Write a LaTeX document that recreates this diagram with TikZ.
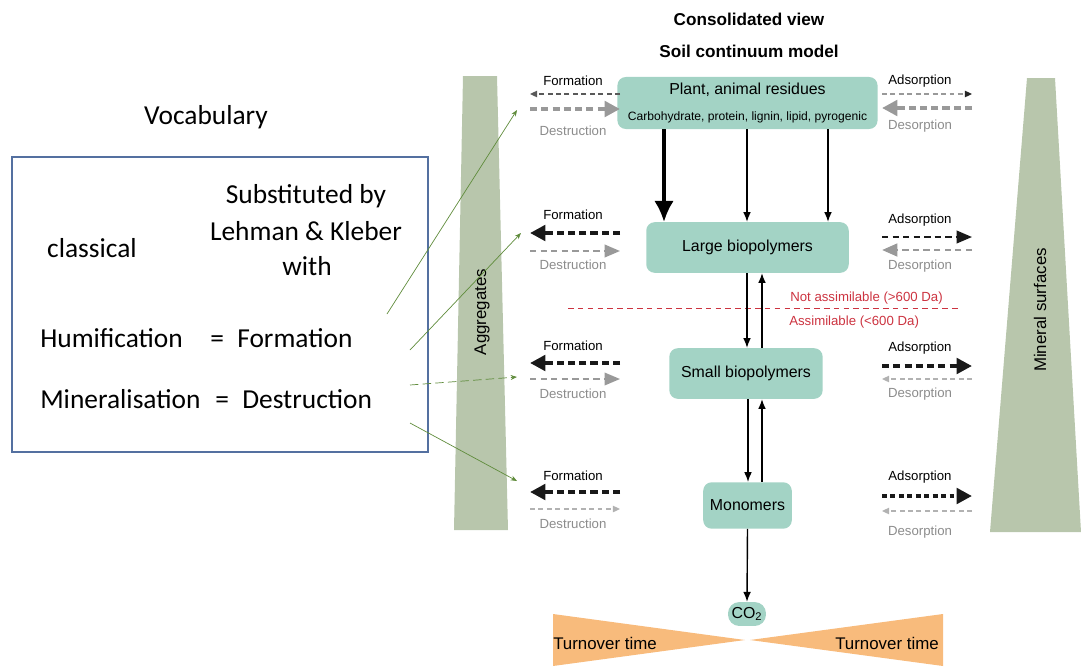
\documentclass[tikz,border=0pt]{standalone}
\usepackage{fontspec}
\setmainfont{Liberation Sans}
\newfontfamily\calibri{Carlito}
\usetikzlibrary{arrows.meta}
\tikzset{
  pool/.style={
    fill=poolgreen,
    rounded corners=6pt,
    align=center,
    inner sep=2pt,
    font=\fontsize{11.3}{13}\selectfont},
  fluxlabel/.style={font=\fontsize{9.4}{11}\selectfont},
  backlabel/.style={fluxlabel, text=black!45},
  fluxweak/.style={
    line width=0.9pt,
    dash pattern=on 3.5pt off 2.5pt,
    -{Triangle[length=5pt,width=4.5pt]}},
  fluxmid/.style={
    line width=1.4pt,
    dash pattern=on 4.5pt off 3pt,
    -{Triangle[length=11pt,width=9pt]}},
  fluxstrong/.style={
    line width=2.8pt,
    dash pattern=on 5pt off 3pt,
    -{Triangle[length=11pt,width=11pt]}},
  flow/.style={line width=1pt, -{Latex[length=7pt,width=5.5pt]}},
  vocab/.style={font=\calibri\fontsize{19.5}{23}\selectfont, anchor=base, inner sep=0pt},
  hint/.style={draw=hintgreen, line width=0.5pt, -{Stealth[length=4.5pt,width=3.5pt]}}
}
\begin{document}
\begin{tikzpicture}[x=0.025cm, y=-0.025cm]
  \definecolor{poolgreen}{RGB}{163, 211, 197}
  \definecolor{barfill}{RGB}{184, 198, 172}
  \definecolor{turnorange}{RGB}{248, 187, 124}
  \definecolor{cutred}{RGB}{204, 51, 64}
  \definecolor{hintgreen}{RGB}{96, 140, 60}
  \definecolor{vocabblue}{RGB}{84, 112, 160}

  \useasboundingbox (0,0) rectangle (1081,666);

  % Titles
  \node[font=\bfseries\fontsize{12.2}{14}\selectfont] (title) at (749,19) {Consolidated view};
  \node[font=\bfseries\fontsize{12.2}{14}\selectfont] (subtitle) at (749,51) {Soil continuum model};

  % Side bars
  \fill[barfill] (463,76) -- (497,76) -- (508,530) -- (454,530) -- cycle;
  \node[rotate=90, font=\fontsize{12}{14}\selectfont] (aggr) at (482,312) {Aggregates};
  \fill[barfill] (1027,78) -- (1055,78) -- (1081,532) -- (990,532) -- cycle;
  \node[rotate=90, font=\fontsize{12}{14}\selectfont] (surfaces) at (1040,310) {Mineral surfaces};

  % Turnover time
  \fill[turnorange] (553,614) -- (745,640) -- (553,666) -- cycle;
  \fill[turnorange] (943,614) -- (750,640) -- (943,666) -- cycle;
  \node[font=\fontsize{12}{14}\selectfont] (turnL) at (605,643) {Turnover time};
  \node[font=\fontsize{12}{14}\selectfont] (turnR) at (887,643) {Turnover time};

  % Assimilation limit
  \draw[cutred, line width=0.7pt, dash pattern=on 4pt off 3pt] (568,308) -- (958,308);
  \node[anchor=west, text=cutred, font=\fontsize{9.4}{11}\selectfont, inner sep=0pt] (notass) at (790,298) {Not assimilable (>600 Da)};
  \node[anchor=west, text=cutred, font=\fontsize{9.4}{11}\selectfont, inner sep=0pt] (ass) at (789,322) {Assimilable (<600 Da)};

  % Pools
  \node[pool, minimum width=185pt, minimum height=37pt] (plant) at (747.5,103)
    {Plant, animal residues\\[5pt]{\fontsize{8.6}{10}\selectfont Carbohydrate, protein, lignin, lipid, pyrogenic}};
  \node[pool, minimum width=144pt, minimum height=36pt] (large) at (747.5,247.5) {Large biopolymers};
  \node[pool, minimum width=109pt, minimum height=36pt] (small) at (746,373.5) {Small biopolymers};
  \node[pool, minimum width=63pt, minimum height=33pt] (mono) at (747.5,505.5) {Monomers};
  \node[pool, rounded corners=8pt, inner sep=1pt, minimum width=27pt, minimum height=17pt] (co2) at (747,614) {CO\textsubscript{2}};

  % Decomposition
  \draw[line width=2.4pt, -{Latex[length=15pt,width=14pt]}] (plant.south -| 664,0) -- (large.north -| 664,0);
  \draw[flow] (plant.south -| 747,0) -- (large.north -| 747,0);
  \draw[flow] (plant.south -| 828,0) -- (large.north -| 828,0);
  \draw[flow] (large.south -| 747,0) -- (small.north -| 747,0);
  \draw[flow] (small.north -| 762,0) -- (large.south -| 762,0);
  \draw[flow] (small.south -| 748,0) -- (mono.north -| 748,0);
  \draw[flow] (mono.north -| 762,0) -- (small.south -| 762,0);
  \draw[flow] (mono.south) -- (co2.north);

  % Formation / destruction
  \coordinate (aggedge) at (530,0);
  \coordinate (poolL) at (620,0);
  \node[fluxlabel] (form1) at (573,81) {Formation};
  \node[backlabel] (dest1) at (573,131) {Destruction};
  \draw[fluxweak, black!65] (poolL |- 0,94) -- (aggedge |- 0,94);
  \draw[fluxstrong, black!40] (aggedge |- 0,109) -- (poolL |- 0,109);

  \node[fluxlabel] (form2) at (573,215) {Formation};
  \node[backlabel] (dest2) at (573,265) {Destruction};
  \draw[fluxstrong, black!90] (poolL |- 0,233) -- (aggedge |- 0,233);
  \draw[fluxmid, black!40] (aggedge |- 0,251) -- (poolL |- 0,251);

  \node[fluxlabel] (form3) at (573,346) {Formation};
  \node[backlabel] (dest3) at (573,394) {Destruction};
  \draw[fluxstrong, black!90] (poolL |- 0,363) -- (aggedge |- 0,363);
  \draw[fluxmid, black!40, line width=1.1pt] (aggedge |- 0,379) -- (poolL |- 0,379);

  \node[fluxlabel] (form4) at (573,476) {Formation};
  \node[backlabel] (dest4) at (573,524) {Destruction};
  \draw[fluxstrong, black!90] (poolL |- 0,492) -- (aggedge |- 0,492);
  \draw[fluxweak, black!30] (aggedge |- 0,509) -- (poolL |- 0,509);

  % Adsorption / desorption
  \coordinate (poolR) at (882,0);
  \coordinate (minedge) at (972,0);
  \node[fluxlabel] (ads1) at (920,81) {Adsorption};
  \node[backlabel] (des1) at (920,126) {Desorption};
  \draw[fluxweak, black!40, -{Triangle[length=5pt,width=4.5pt,color=black!85]}] (poolR |- 0,94) -- (minedge |- 0,94);
  \draw[fluxstrong, black!40] (minedge |- 0,108) -- (poolR |- 0,108);

  \node[fluxlabel] (ads2) at (920,220) {Adsorption};
  \node[backlabel] (des2) at (920,266) {Desorption};
  \draw[fluxmid, black!90] (poolR |- 0,237) -- (minedge |- 0,237);
  \draw[fluxmid, black!40, line width=2pt] (minedge |- 0,250) -- (poolR |- 0,250);

  \node[fluxlabel] (ads3) at (920,348) {Adsorption};
  \node[backlabel] (des3) at (920,394) {Desorption};
  \draw[fluxstrong, black!90] (poolR |- 0,366) -- (minedge |- 0,366);
  \draw[fluxweak, black!30] (minedge |- 0,379) -- (poolR |- 0,379);

  \node[fluxlabel] (ads4) at (920,477) {Adsorption};
  \node[backlabel] (des4) at (920,532) {Desorption};
  \draw[fluxstrong, black!90, line width=3.4pt, dash pattern=on 3.5pt off 2.5pt] (poolR |- 0,496) -- (minedge |- 0,496);
  \draw[fluxweak, black!30] (minedge |- 0,511) -- (poolR |- 0,511);

  % Vocabulary
  \node[vocab] (voc) at (206,124) {Vocabulary};
  \draw[vocabblue, line width=0.8pt] (12,157) rectangle (428,452);
  \node[vocab] (subst) at (306,203) {Substituted by};
  \node[vocab] (lehman) at (306,240) {Lehman \& Kleber};
  \node[vocab] (withl) at (307,275) {with};
  \node[vocab] (classic) at (92,257) {classical};
  \node[vocab, anchor=base west] (humif) at (40,347) {Humification};
  \node[vocab, anchor=base west] (humeq) at (210,347) {=};
  \node[vocab, anchor=base west] (formw) at (237,347) {Formation};
  \node[vocab, anchor=base west] (mineral) at (40,408) {Mineralisation};
  \node[vocab, anchor=base west] (mineq) at (215,408) {=};
  \node[vocab, anchor=base west] (destw) at (242,408) {Destruction};

  % Pointers to the fluxes
  \coordinate (h1) at (387,314); \coordinate (t1) at (517,110);
  \coordinate (h2) at (410,350); \coordinate (t2) at (521,233);
  \coordinate (h3) at (410,385); \coordinate (t3) at (517,377);
  \coordinate (h4) at (410,423); \coordinate (t4) at (517,481);
  \draw[hint] (h1) -- (t1);
  \draw[hint] (h2) -- (t2);
  \draw[hint, dash pattern=on 6pt off 3pt] (h3) -- (t3);
  \draw[hint] (h4) -- (t4);
\end{tikzpicture}
\end{document}
